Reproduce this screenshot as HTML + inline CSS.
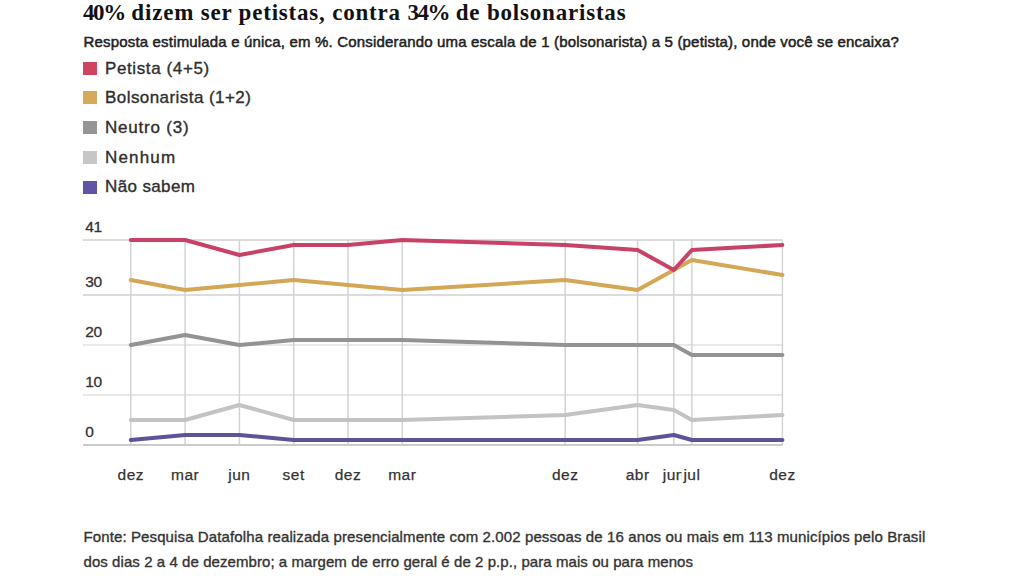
<!DOCTYPE html>
<html lang="pt-BR">
<head>
<meta charset="utf-8">
<title>40% dizem ser petistas, contra 34% de bolsonaristas</title>
<style>
html,body{margin:0;padding:0;background:#fff;}
body{width:1024px;height:576px;position:relative;overflow:hidden;}
h1{position:absolute;left:83px;top:1.5px;margin:0;font:bold 23px/22px "Liberation Serif",serif;color:#121212;white-space:nowrap;letter-spacing:0.8px;word-spacing:0px;}
h1 .n{letter-spacing:-1.4px;}
.sub{position:absolute;left:83.5px;top:33.2px;margin:0;font:15px/17px "Liberation Sans",sans-serif;color:#222;white-space:nowrap;letter-spacing:0.174px;-webkit-text-stroke:0.5px #222;}
ul.legend{list-style:none;margin:0;padding:0;}
ul.legend li{position:absolute;left:83px;height:13px;}
.sw{position:absolute;left:0;top:0;width:14px;height:13px;}
.lt{position:absolute;left:22px;top:-3.1px;font:17px/20px "Liberation Sans",sans-serif;color:#2e2e2e;white-space:nowrap;-webkit-text-stroke:0.35px #2e2e2e;}
.chart{position:absolute;left:0;top:0;}
.yl{font:15.5px "Liberation Sans",sans-serif;fill:#333;stroke:#333;stroke-width:0.3px;letter-spacing:-0.4px;}
.xl{font:15.5px "Liberation Sans",sans-serif;fill:#333;stroke:#333;stroke-width:0.25px;letter-spacing:0.5px;}
.src{position:absolute;left:83.5px;top:524.2px;margin:0;font:15px/25px "Liberation Sans",sans-serif;color:#333;white-space:nowrap;-webkit-text-stroke:0.35px #333;}
.l1{letter-spacing:0.113px;}
.l2{letter-spacing:0.068px;}
</style>
</head>
<body>
<h1><span class="n">40%</span> dizem ser petistas, contra <span class="n">34%</span> de bolsonaristas</h1>
<p class="sub">Resposta estimulada e única, em %. Considerando uma escala de 1 (bolsonarista) a 5 (petista), onde você se encaixa?</p>
<ul class="legend">
<li style="top:61.7px"><span class="sw" style="background:#d04463"></span><span class="lt" style="letter-spacing:0.61px">Petista (4+5)</span></li>
<li style="top:91.4px"><span class="sw" style="background:#d7a95b"></span><span class="lt" style="letter-spacing:0.44px">Bolsonarista (1+2)</span></li>
<li style="top:121.1px"><span class="sw" style="background:#959595"></span><span class="lt" style="letter-spacing:0.78px">Neutro (3)</span></li>
<li style="top:150.8px"><span class="sw" style="background:#c6c6c6"></span><span class="lt" style="letter-spacing:1.18px">Nenhum</span></li>
<li style="top:180.5px"><span class="sw" style="background:#6254a4"></span><span class="lt" style="letter-spacing:0.375px">Não sabem</span></li>
</ul>
<svg class="chart" width="1024" height="576" viewBox="0 0 1024 576">
<line x1="83" x2="782.40" y1="395" y2="395" stroke="#e0e0e0" stroke-width="1.5"/>
<line x1="83" x2="782.40" y1="345" y2="345" stroke="#e0e0e0" stroke-width="1.5"/>
<line x1="83" x2="782.40" y1="295" y2="295" stroke="#d0d0d0" stroke-width="1.5"/>
<line x1="83" x2="782.40" y1="240" y2="240" stroke="#d0d0d0" stroke-width="1.5"/>
<line x1="130.80" x2="130.80" y1="240" y2="445" stroke="#d3d3d3" stroke-width="1.5"/>
<line x1="185.10" x2="185.10" y1="240" y2="445" stroke="#d3d3d3" stroke-width="1.5"/>
<line x1="239.40" x2="239.40" y1="240" y2="445" stroke="#d3d3d3" stroke-width="1.5"/>
<line x1="293.70" x2="293.70" y1="240" y2="445" stroke="#d3d3d3" stroke-width="1.5"/>
<line x1="348.00" x2="348.00" y1="240" y2="445" stroke="#d3d3d3" stroke-width="1.5"/>
<line x1="402.30" x2="402.30" y1="240" y2="445" stroke="#d3d3d3" stroke-width="1.5"/>
<line x1="565.20" x2="565.20" y1="240" y2="445" stroke="#d3d3d3" stroke-width="1.5"/>
<line x1="637.60" x2="637.60" y1="240" y2="445" stroke="#d3d3d3" stroke-width="1.5"/>
<line x1="673.80" x2="673.80" y1="240" y2="445" stroke="#d3d3d3" stroke-width="1.5"/>
<line x1="691.90" x2="691.90" y1="240" y2="445" stroke="#d3d3d3" stroke-width="1.5"/>
<line x1="782.40" x2="782.40" y1="240" y2="445" stroke="#d3d3d3" stroke-width="1.5"/>
<line x1="83" x2="782.40" y1="445" y2="445" stroke="#cbcbcb" stroke-width="1.8"/>
<text x="85.3" y="231.6" class="yl">41</text>
<text x="85.3" y="286.6" class="yl">30</text>
<text x="85.3" y="336.6" class="yl">20</text>
<text x="85.3" y="386.6" class="yl">10</text>
<text x="85.3" y="436.6" class="yl">0</text>
<text x="130.80" y="479.7" class="xl" text-anchor="middle">dez</text>
<text x="185.10" y="479.7" class="xl" text-anchor="middle">mar</text>
<text x="239.40" y="479.7" class="xl" text-anchor="middle">jun</text>
<text x="293.70" y="479.7" class="xl" text-anchor="middle">set</text>
<text x="348.00" y="479.7" class="xl" text-anchor="middle">dez</text>
<text x="402.30" y="479.7" class="xl" text-anchor="middle">mar</text>
<text x="565.20" y="479.7" class="xl" text-anchor="middle">dez</text>
<text x="637.60" y="479.7" class="xl" text-anchor="middle">abr</text>
<text x="673.80" y="479.7" class="xl" text-anchor="middle">jun</text>
<rect x="681.60" y="462" width="20.6" height="22" fill="#fff"/>
<text x="691.90" y="479.7" class="xl" text-anchor="middle">jul</text>
<text x="782.40" y="479.7" class="xl" text-anchor="middle">dez</text>
<polyline points="130.80,440 185.10,435 239.40,435 293.70,440 348.00,440 402.30,440 565.20,440 637.60,440 673.80,435 691.90,440 782.40,440" fill="none" stroke="#5d5399" stroke-width="4" stroke-linejoin="round" stroke-linecap="round"/>
<polyline points="130.80,420 185.10,420 239.40,405 293.70,420 348.00,420 402.30,420 565.20,415 637.60,405 673.80,410 691.90,420 782.40,415" fill="none" stroke="#c3c3c3" stroke-width="4" stroke-linejoin="round" stroke-linecap="round"/>
<polyline points="130.80,345 185.10,335 239.40,345 293.70,340 348.00,340 402.30,340 565.20,345 637.60,345 673.80,345 691.90,355 782.40,355" fill="none" stroke="#939393" stroke-width="4" stroke-linejoin="round" stroke-linecap="round"/>
<polyline points="130.80,280 185.10,290 239.40,285 293.70,280 348.00,285 402.30,290 565.20,280 637.60,290 673.80,270 691.90,260 782.40,275" fill="none" stroke="#d3a756" stroke-width="4" stroke-linejoin="round" stroke-linecap="round"/>
<polyline points="130.80,240 185.10,240 239.40,255 293.70,245 348.00,245 402.30,240 565.20,245 637.60,250 673.80,270 691.90,250 782.40,245" fill="none" stroke="#c84267" stroke-width="4" stroke-linejoin="round" stroke-linecap="round"/>
</svg>
<p class="src"><span class="l1">Fonte: Pesquisa Datafolha realizada presencialmente com 2.002 pessoas de 16 anos ou mais em 113 municípios pelo Brasil</span><br><span class="l2">dos dias 2 a 4 de dezembro; a margem de erro geral é de 2 p.p., para mais ou para menos</span></p>
</body>
</html>
